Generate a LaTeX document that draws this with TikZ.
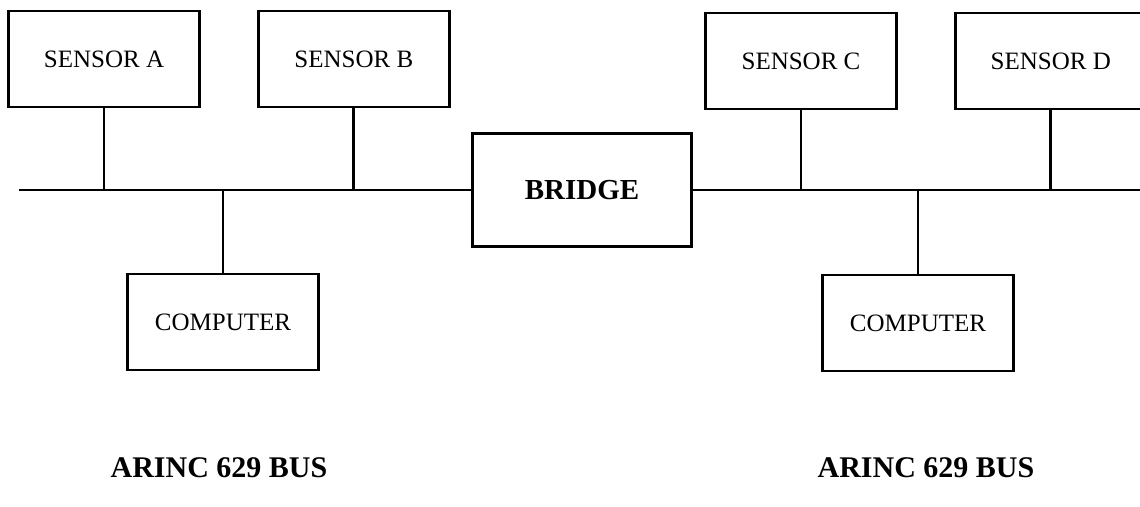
\documentclass[tikz,border=0pt]{standalone}
\usepackage{fontspec}
\setmainfont{Liberation Serif}
\usetikzlibrary{positioning}

\begin{document}
\begin{tikzpicture}[
    x=1pt, y=-1pt,
    node distance=56pt,
    unit/.style={rectangle, draw, line width=2.8pt, minimum width=191pt, minimum height=96pt, text centered, font=\fontsize{25}{30}\selectfont},
    bridgebox/.style={rectangle, draw, line width=2.8pt, minimum width=219pt, minimum height=113pt, text centered, font=\fontsize{29}{34}\selectfont\bfseries},
    buslabel/.style={font=\fontsize{30}{36}\selectfont\bfseries},
    bus/.style={line width=2.8pt}
]
\useasboundingbox (0,0) rectangle (1140,506);

% left bus
\node[unit] (sa) at (104,59) {SENSOR A};
\node[unit, right=of sa] (sb) {SENSOR B};
\node[unit] (cl) at (223,322) {COMPUTER};

\node[bridgebox] (bridge) at (582,190) {BRIDGE};

% right bus
\node[unit] (sc) at (801,61) {SENSOR C};
\node[unit, right=of sc] (sd) {SENSOR D};
\node[unit] (cr) at (918,323) {COMPUTER};

\coordinate (busL) at (19,190);
\coordinate (busR) at (1140,190);

\draw[bus] (busL) -- (bridge.west);
\draw[bus] (bridge.east) -- (busR);

\draw[bus] (sa) -- (sa |- busL);
\draw[bus] (sb) -- (sb |- busL);
\draw[bus] (cl) -- (cl |- busL);
\draw[bus] (sc) -- (sc |- busR);
\draw[bus] (sd) -- (sd |- busR);
\draw[bus] (cr) -- (cr |- busR);

\node[buslabel] (labL) at (219,468) {ARINC 629 BUS};
\node[buslabel] (labR) at (926,468) {ARINC 629 BUS};
\end{tikzpicture}
\end{document}
